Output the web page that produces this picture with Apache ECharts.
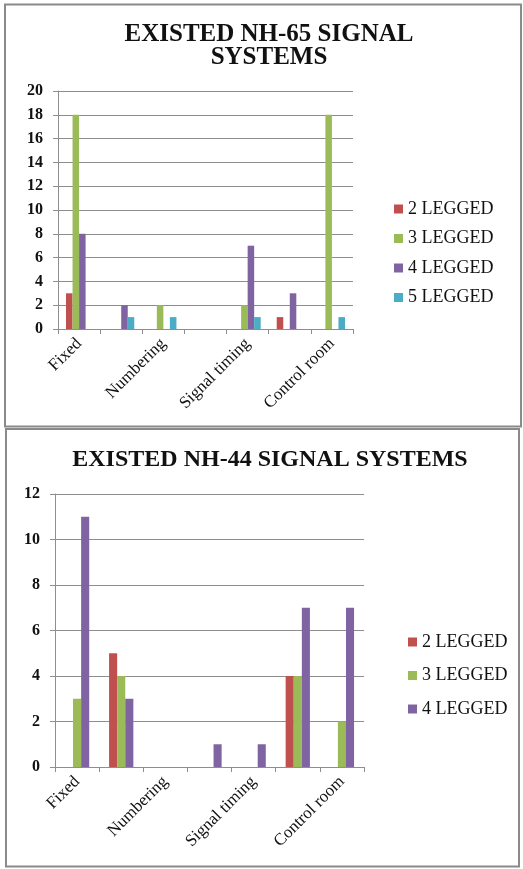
<!DOCTYPE html>
<html>
<head>
<meta charset="utf-8">
<script src="https://cdn.jsdelivr.net/npm/echarts@6/dist/echarts.min.js"></script>
<style>
  html, body { margin: 0; padding: 0; background: #ffffff; }
  #chart { width: 523px; height: 869px; }
</style>
</head>
<body>
<div id="chart"></div>
<script>
// Signal system survey counts, NH-65 and NH-44 corridors.
// Unlabelled slots on the category axis are left blank.
const categoriesNH65 = ['Fixed', '', 'Numbering', '', 'Signal timing', '', 'Control room'];
const legged2NH65 = [3, 0, 0, 0, 0, 1, 0];
const legged3NH65 = [18, 0, 2, 0, 2, 0, 18];
const legged4NH65 = [8, 2, 0, 0, 7, 3, 0];
const legged5NH65 = [0, 1, 1, 0, 1, 0, 1];

const categoriesNH44 = ['Fixed', '', 'Numbering', '', 'Signal timing', '', 'Control room'];
const legged2NH44 = [0, 5, 0, 0, 0, 4, 0];
const legged3NH44 = [3, 4, 0, 0, 0, 4, 2];
const legged4NH44 = [11, 3, 0, 1, 1, 7, 7];

const seriesNames = ['2 LEGGED', '3 LEGGED', '4 LEGGED', '5 LEGGED'];
const seriesColors = ['#C0504D', '#9BBB59', '#8064A2', '#4BACC6'];

const serif = '"Liberation Serif", "Times New Roman", serif';
const gridGray = '#8e8e8e';

const chart = echarts.init(document.getElementById('chart'), null, { renderer: 'canvas' });

function xAxisFor(gridIndex, cats) {
  return {
    type: 'category',
    gridIndex: gridIndex,
    data: cats,
    boundaryGap: true,
    axisLine: { lineStyle: { color: gridGray, width: 1 } },
    axisTick: { show: true, alignWithLabel: false, interval: 0, length: 5, lineStyle: { color: gridGray } },
    axisLabel: {
      interval: 0,
      rotate: 45,
      margin: 12,
      fontFamily: serif,
      fontSize: 17,
      color: '#111'
    }
  };
}

function yAxisFor(gridIndex, max) {
  return {
    type: 'value',
    gridIndex: gridIndex,
    min: 0,
    max: max,
    interval: 2,
    axisLine: { show: true, lineStyle: { color: gridGray, width: 1 } },
    axisTick: { show: true, length: 5, lineStyle: { color: gridGray } },
    splitLine: { show: true, lineStyle: { color: gridGray, width: 1 } },
    axisLabel: {
      margin: 15,
      fontFamily: serif,
      fontWeight: 'bold',
      fontSize: 16,
      color: '#111'
    }
  };
}

function barSeries(name, color, data, idx, catGap) {
  return {
    type: 'bar',
    name: name,
    xAxisIndex: idx,
    yAxisIndex: idx,
    data: data,
    barGap: '0%',
    barCategoryGap: catGap,
    itemStyle: { color: color },
    emphasis: { disabled: true }
  };
}

const legendText = { fontFamily: serif, fontSize: 18, color: '#111', lineHeight: 20 };

const option = {
  animation: false,
  backgroundColor: '#ffffff',
  title: [
    {
      text: 'EXISTED NH-65 SIGNAL\nSYSTEMS',
      left: 264,
      top: 18,
      textAlign: 'center',
      textStyle: { fontFamily: serif, fontWeight: 'bold', fontSize: 25, lineHeight: 23, color: '#111' }
    },
    {
      text: 'EXISTED NH-44 SIGNAL SYSTEMS',
      left: 265,
      top: 443,
      textAlign: 'center',
      textStyle: { fontFamily: serif, fontWeight: 'bold', fontSize: 24, lineHeight: 23, color: '#111' }
    }
  ],
  legend: [
    {
      orient: 'vertical',
      left: 389,
      top: 194,
      itemWidth: 9,
      itemHeight: 9,
      itemGap: 9.5,
      icon: 'rect',
      data: seriesNames,
      textStyle: legendText,
      selectedMode: false
    },
    {
      orient: 'vertical',
      left: 403,
      top: 627,
      itemWidth: 9,
      itemHeight: 9,
      itemGap: 13.5,
      icon: 'rect',
      data: seriesNames.slice(0, 3),
      textStyle: legendText,
      selectedMode: false
    }
  ],
  grid: [
    { left: 58, right: 170, top: 91, bottom: 540, containLabel: false },
    { left: 55, right: 159, top: 494, bottom: 102, containLabel: false }
  ],
  xAxis: [xAxisFor(0, categoriesNH65), xAxisFor(1, categoriesNH44)],
  yAxis: [yAxisFor(0, 20), yAxisFor(1, 12)],
  series: [
    barSeries(seriesNames[0], seriesColors[0], legged2NH65, 0, '38%'),
    barSeries(seriesNames[1], seriesColors[1], legged3NH65, 0, '38%'),
    barSeries(seriesNames[2], seriesColors[2], legged4NH65, 0, '38%'),
    barSeries(seriesNames[3], seriesColors[3], legged5NH65, 0, '38%'),
    barSeries(seriesNames[0], seriesColors[0], legged2NH44, 1, '45%'),
    barSeries(seriesNames[1], seriesColors[1], legged3NH44, 1, '45%'),
    barSeries(seriesNames[2], seriesColors[2], legged4NH44, 1, '45%')
  ],
  graphic: [
    {
      type: 'rect',
      shape: { x: 5, y: 4.5, width: 516, height: 422 },
      style: { fill: 'none', stroke: '#8a8a8a', lineWidth: 2 },
      silent: true
    },
    {
      type: 'rect',
      shape: { x: 6, y: 429, width: 513, height: 437.5 },
      style: { fill: 'none', stroke: '#8a8a8a', lineWidth: 2 },
      silent: true
    }
  ]
};

chart.setOption(option);
</script>
</body>
</html>
